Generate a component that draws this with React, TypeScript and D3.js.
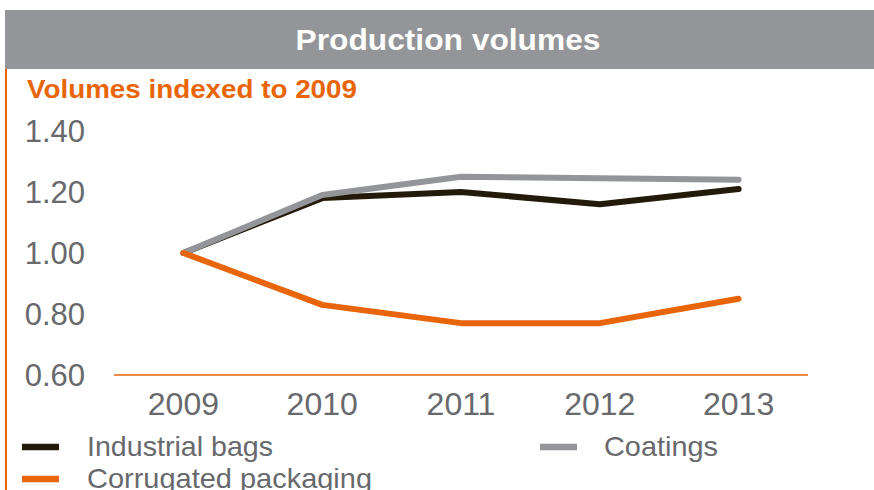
import React from "react";
import * as d3 from "d3";

const years = ["2009", "2010", "2011", "2012", "2013"];
const industrialBags = [1.0, 1.18, 1.2, 1.16, 1.21];
const corrugated = [1.0, 0.83, 0.77, 0.77, 0.85];
const coatings = [1.0, 1.19, 1.25, 1.245, 1.24];
const yTicks = [0.6, 0.8, 1.0, 1.2, 1.4];

const W = 874;
const H = 490;
const FONT = "'Liberation Sans', Arial, sans-serif";
const ORANGE = "#e8650a";
const GRAY = "#939598";
const BLACK = "#231a0a";
const TEXT = "#68696c";

export default function App() {
  const x = d3.scaleBand<string>().domain(years).range([114, 808]);
  const y = d3.scaleLinear().domain([0.6, 1.4]).range([375, 131]);
  const line = d3
    .line<number>()
    .x((_, i) => (x(years[i]) as number) + x.bandwidth() / 2)
    .y((d) => y(d));

  const series = [
    { name: "Industrial bags", values: industrialBags, color: BLACK },
    { name: "Coatings", values: coatings, color: GRAY },
    { name: "Corrugated packaging", values: corrugated, color: ORANGE },
  ];

  const legend = [
    { name: "Industrial bags", color: BLACK, sx: 22, tx: 87, y: 447, tl: 186 },
    { name: "Coatings", color: GRAY, sx: 540, tx: 604, y: 447, tl: 114 },
    { name: "Corrugated packaging", color: ORANGE, sx: 22, tx: 87, y: 479, tl: 285 },
  ];

  return (
    <svg
      width={W}
      height={H}
      style={{ position: "absolute", left: 0, top: 0, background: "#fff" }}
      fontFamily={FONT}
    >
      <rect x={5} y={10} width={W - 5} height={59} fill={GRAY} />
      <text
        x={448}
        y={50}
        textAnchor="middle"
        fill="#fff"
        fontSize={29}
        fontWeight="bold"
        textLength={305}
        lengthAdjust="spacingAndGlyphs"
      >
        Production volumes
      </text>
      <line x1={6} x2={6} y1={69} y2={H} stroke={ORANGE} strokeWidth={2} />
      <text
        x={27}
        y={98}
        fill={ORANGE}
        fontSize={25}
        fontWeight="bold"
        textLength={330}
        lengthAdjust="spacingAndGlyphs"
      >
        Volumes indexed to 2009
      </text>

      {yTicks.map((t) => (
        <text
          key={t}
          x={85}
          y={y(t) + 11}
          textAnchor="end"
          fill={TEXT}
          fontSize={31}
        >
          {t.toFixed(2)}
        </text>
      ))}

      <line x1={114} x2={808} y1={y(0.6)} y2={y(0.6)} stroke={ORANGE} strokeWidth={1.5} />

      {years.map((yr) => (
        <text
          key={yr}
          x={(x(yr) as number) + x.bandwidth() / 2}
          y={415}
          textAnchor="middle"
          fill={TEXT}
          fontSize={32}
        >
          {yr}
        </text>
      ))}

      {series.map((s) => (
        <path
          key={s.name}
          d={line(s.values) || ""}
          fill="none"
          stroke={s.color}
          strokeWidth={6}
          strokeLinecap="round"
          strokeLinejoin="round"
        />
      ))}

      {legend.map((l) => (
        <g key={l.name}>
          <line x1={l.sx} x2={l.sx + 37} y1={l.y} y2={l.y} stroke={l.color} strokeWidth={6.5} />
          <text
            x={l.tx}
            y={l.y + 8.5}
            fill={TEXT}
            fontSize={28}
            textLength={l.tl}
            lengthAdjust="spacingAndGlyphs"
          >
            {l.name}
          </text>
        </g>
      ))}
    </svg>
  );
}
